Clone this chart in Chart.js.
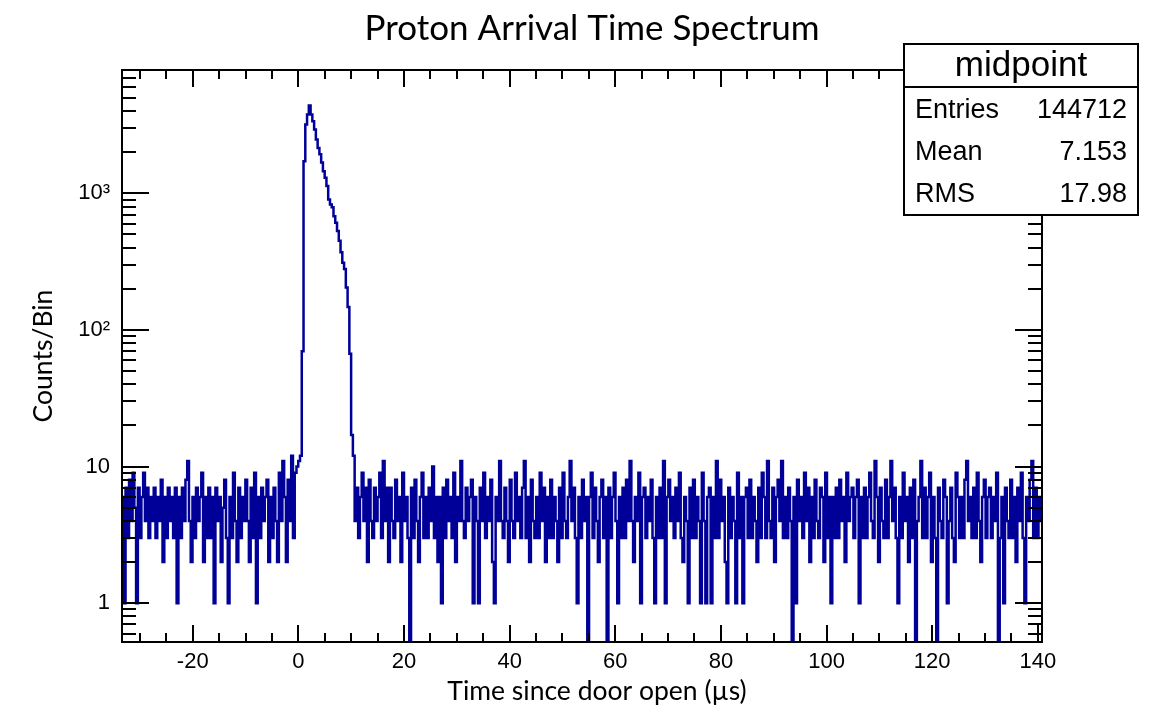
<!DOCTYPE html>
<html>
<head>
<meta charset="utf-8">
<script src="https://cdn.jsdelivr.net/npm/chart.js@4.4.1/dist/chart.umd.min.js"></script>
<style>
  body { margin: 0; background: #fff; }
</style>
</head>
<body>
<canvas id="myChart" width="1151" height="713"></canvas>
<script>
// histogram range (us)
const xMin = -33.4;
const xMax = 140.8;

// counts per bin
const noiseBefore = [
  6, 1, 7, 3, 8, 4, 9, 5, 1, 7,
  3, 6, 9, 4, 7, 3, 6, 4, 7, 3,
  6, 4, 8, 2, 6, 3, 7, 4, 6, 3,
  7, 1, 6, 3, 7, 4, 8, 11, 4, 2,
  6, 3, 7, 4, 6, 9, 2, 6, 3, 7,
  3, 6, 1, 7, 4, 6, 2, 5, 8, 3,
  1, 6, 3, 9, 4, 2, 7, 3, 6, 4,
  8, 4, 2, 7, 3, 9, 1, 6, 3, 7,
  4, 6, 8, 2, 6, 3, 7, 4, 2, 9,
  4, 11, 6, 2, 8, 4, 12, 3, 9, 10
];
const peakCounts = [
  11, 12, 70, 1720, 3190, 3780, 4390, 3780, 3370, 2930,
  2480, 2150, 1930, 1680, 1450, 1300, 1130, 900, 830, 790,
  680, 610, 530, 450, 370, 310, 280, 205, 147, 67,
  17, 12
];
const noiseAfter = [
  4, 7, 3, 6, 9, 4, 7, 2, 8, 4,
  3, 7, 4, 6, 9, 3, 11, 4, 7, 2,
  7, 4, 3, 8, 4, 6, 2, 9, 4, 6,
  3, 0, 7, 3, 8, 4, 2, 6, 9, 3,
  6, 3, 7, 4, 10, 3, 6, 2, 6, 1,
  7, 3, 8, 4, 6, 3, 9, 2, 6, 4,
  11, 4, 3, 7, 4, 6, 8, 1, 6, 4,
  1, 7, 4, 9, 3, 6, 4, 8, 2, 1,
  6, 4, 11, 4, 3, 7, 4, 2, 8, 4,
  3, 9, 4, 6, 3, 7, 11, 3, 6, 2,
  8, 4, 3, 6, 3, 9, 4, 7, 2, 6,
  3, 8, 3, 6, 4, 2, 7, 3, 9, 4,
  3, 6, 11, 4, 7, 3, 1, 6, 3, 8,
  4, 6, 0, 6, 9, 3, 7, 4, 2, 6,
  8, 3, 6, 0, 7, 3, 6, 9, 4, 1,
  6, 3, 7, 3, 8, 4, 11, 4, 2, 6,
  4, 9, 1, 6, 7, 3, 6, 4, 8, 3,
  1, 6, 3, 7, 3, 11, 1, 6, 8, 4,
  6, 3, 7, 4, 9, 3, 2, 6, 4, 1,
  7, 3, 8, 3, 6, 4, 1, 9, 4, 1,
  6, 7, 1, 6, 3, 11, 3, 8, 4, 6,
  2, 1, 7, 3, 6, 4, 1, 9, 3, 6,
  1, 6, 7, 3, 8, 3, 6, 4, 2, 7,
  3, 9, 6, 3, 11, 4, 3, 7, 2, 6,
  8, 4, 11, 3, 6, 3, 7, 4, 0, 6,
  1, 8, 4, 6, 3, 9, 4, 7, 2, 6,
  3, 8, 4, 3, 7, 6, 2, 9, 3, 6,
  1, 6, 3, 7, 3, 8, 4, 6, 2, 9,
  4, 6, 7, 3, 6, 8, 1, 6, 3, 7,
  3, 6, 9, 4, 3, 11, 6, 2, 7, 4,
  3, 8, 3, 6, 11, 4, 7, 3, 1, 6,
  3, 9, 4, 6, 2, 7, 3, 8, 0, 4,
  6, 11, 3, 7, 3, 6, 9, 2, 6, 3,
  0, 7, 4, 3, 8, 6, 1, 4, 7, 3,
  2, 9, 6, 3, 6, 3, 8, 11, 4, 6,
  3, 7, 3, 9, 4, 2, 6, 8, 3, 6,
  7, 3, 6, 4, 9, 0, 3, 6, 1, 7,
  4, 3, 8, 3, 6, 2, 7, 4, 9, 3,
  1, 6, 4, 8, 11, 3, 7, 3, 6, 4
];

const xTickValues = [-20, 0, 20, 40, 60, 80, 100, 120, 140];
const yTickValues = [1, 10, 100, 1000];
const yTickLabels = ['1', '10', '10²', '10³'];

const statNames = ['Entries', 'Mean', 'RMS'];
const statValues = ['144712', '7.153', '17.98'];

// build the histogram points (lower bin edges + closing edge)
const counts = noiseBefore.concat(peakCounts, noiseAfter);
const binW = (xMax - xMin) / counts.length;
const histPoints = counts.map((c, i) => ({x: xMin + i * binW, y: c === 0 ? 0.05 : c}));
histPoints.push({x: xMax, y: histPoints[histPoints.length - 1].y});

// ROOT style frame, inside ticks, titles and stat box
const rootStyle = {
  id: 'rootStyle',
  afterDatasetsDraw(chart) {
    const ctx = chart.ctx;
    const a = chart.chartArea;
    const xs = chart.scales.x, ys = chart.scales.y;
    ctx.save();
    ctx.strokeStyle = '#000';
    ctx.lineWidth = 2;
    ctx.strokeRect(a.left, a.top, a.right - a.left, a.bottom - a.top);

    ctx.beginPath();
    // x ticks, bottom and top
    for (let v = -30; v <= xMax; v += 5) {
      const px = Math.round(xs.getPixelForValue(v));
      const len = (v % 20 === 0) ? 17 : 9;
      ctx.moveTo(px, a.bottom); ctx.lineTo(px, a.bottom - len);
      ctx.moveTo(px, a.top); ctx.lineTo(px, a.top + len);
    }
    // y ticks, left and right
    for (let dec = 0.1; dec <= 1000; dec *= 10) {
      for (let m = 1; m <= 9; m++) {
        const v = m * dec;
        if (v < ys.min || v > ys.max) continue;
        const py = Math.round(ys.getPixelForValue(v));
        const len = (m === 1) ? 27 : 14;
        ctx.moveTo(a.left, py); ctx.lineTo(a.left + len, py);
        ctx.moveTo(a.right, py); ctx.lineTo(a.right - len, py);
      }
    }
    ctx.stroke();
    ctx.restore();
  },
  afterDraw(chart) {
    const ctx = chart.ctx;
    ctx.save();
    ctx.fillStyle = '#000';
    ctx.textAlign = 'center';
    ctx.textBaseline = 'alphabetic';
    ctx.font = '35px Lato';
    ctx.fillText('Proton Arrival Time Spectrum', 592, 40);
    ctx.font = '26.5px Lato';
    ctx.fillText('Time since door open (µs)', 597, 700);

    // stat box
    ctx.fillStyle = '#fff';
    ctx.fillRect(904, 44, 234, 171);
    ctx.strokeStyle = '#000';
    ctx.lineWidth = 2;
    ctx.strokeRect(904, 44, 234, 171);
    ctx.beginPath();
    ctx.moveTo(904, 87); ctx.lineTo(1138, 87);
    ctx.stroke();
    ctx.fillStyle = '#000';
    ctx.font = '35px "Liberation Sans"';
    ctx.fillText('midpoint', 1021, 76);
    ctx.font = '27px "Liberation Sans"';
    statNames.forEach((name, i) => {
      const y = 118 + i * 42;
      ctx.textAlign = 'left';
      ctx.fillText(name, 915, y);
      ctx.textAlign = 'right';
      ctx.fillText(statValues[i], 1127, y);
    });
    ctx.restore();
  }
};

const config = {
  type: 'line',
  data: {
    datasets: [{
      label: 'midpoint',
      data: histPoints,
      stepped: true,
      borderColor: '#000099',
      borderWidth: 2.5,
      pointRadius: 0,
      fill: false
    }]
  },
  options: {
    responsive: false,
    animation: false,
    layout: {padding: {top: 70, right: 109, left: 0, bottom: 0}},
    plugins: {
      legend: {display: false},
      tooltip: {enabled: false}
    },
    scales: {
      x: {
        type: 'linear',
        min: xMin,
        max: xMax,
        bounds: 'data',
        grid: {display: false, drawTicks: false},
        border: {display: false},
        afterBuildTicks: s => { s.ticks = xTickValues.map(v => ({value: v})); },
        afterFit: s => { s.height = 71; },
        ticks: {
          color: '#000',
          padding: 7,
          maxRotation: 0,
          font: {family: '"Liberation Sans"', size: 22}
        }
      },
      y: {
        type: 'logarithmic',
        min: 0.52,
        max: 8000,
        bounds: 'data',
        grid: {display: false, drawTicks: false},
        border: {display: false},
        afterBuildTicks: s => { s.ticks = yTickValues.map(v => ({value: v})); },
        afterFit: s => { s.width = 122; },
        ticks: {
          color: '#000',
          padding: 12,
          font: {family: '"Liberation Sans"', size: 22},
          callback: (v) => yTickLabels[yTickValues.indexOf(v)]
        },
        title: {
          display: true,
          text: 'Counts/Bin',
          color: '#000',
          padding: {top: 28, bottom: 0},
          font: {family: 'Lato', size: 26.5}
        }
      }
    }
  },
  plugins: [rootStyle]
};

let myChart = new Chart(document.getElementById('myChart'), config);
</script>
</body>
</html>
